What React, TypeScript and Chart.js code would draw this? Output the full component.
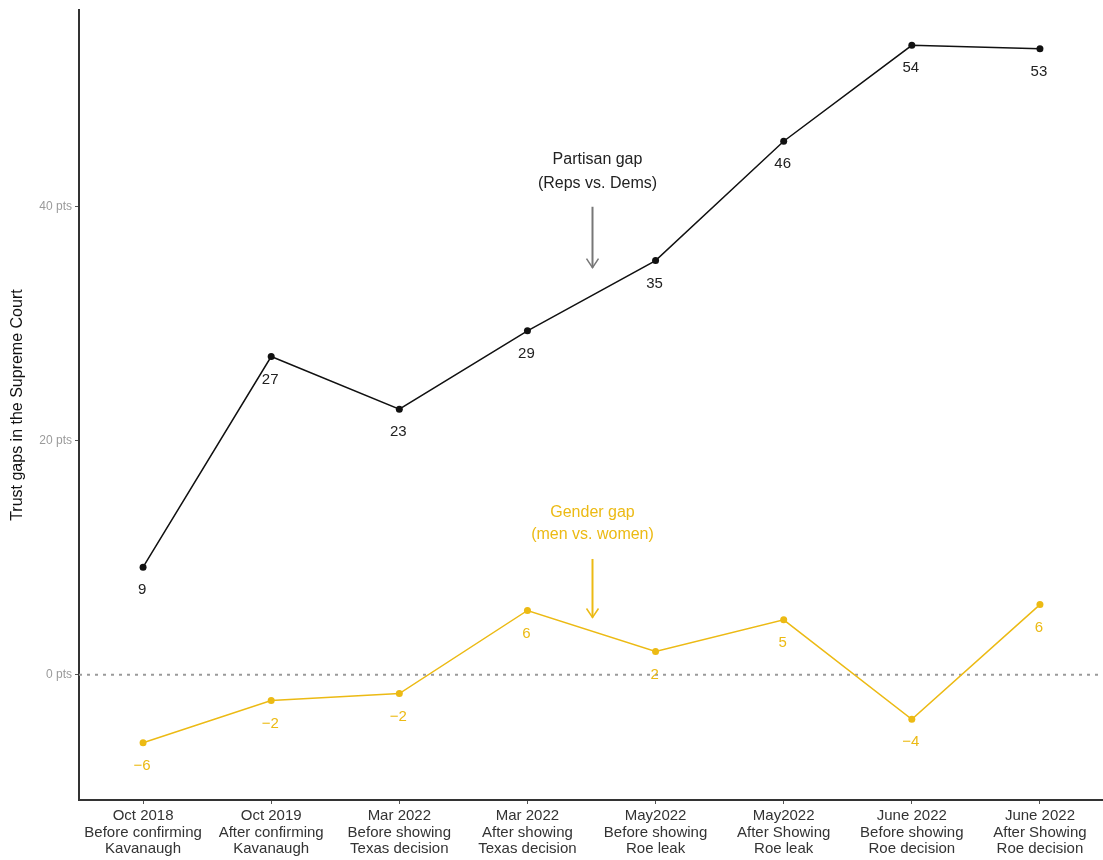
import React, { useEffect, useRef } from "react";
import { Chart, registerables } from "chart.js";

Chart.register(...registerables);

const categories: string[][] = [
  ["Oct 2018", "Before confirming", "Kavanaugh"],
  ["Oct 2019", "After confirming", "Kavanaugh"],
  ["Mar 2022", "Before showing", "Texas decision"],
  ["Mar 2022", "After showing", "Texas decision"],
  ["May2022", "Before showing", "Roe leak"],
  ["May2022", "After Showing", "Roe leak"],
  ["June 2022", "Before showing", "Roe decision"],
  ["June 2022", "After Showing", "Roe decision"],
];

const partisanGap = [9.2, 27.2, 22.7, 29.4, 35.4, 45.6, 53.8, 53.5];
const partisanLabels = ["9", "27", "23", "29", "35", "46", "54", "53"];
const genderGap = [-5.8, -2.2, -1.6, 5.5, 2.0, 4.7, -3.8, 6.0];
const genderLabels = ["\u22126", "\u22122", "\u22122", "6", "2", "5", "\u22124", "6"];
const yTicks = [0, 20, 40];

const GOLD = "#ECBA14";
const FONT = "'Liberation Sans', Arial, sans-serif";

export default function App() {
  const ref = useRef<HTMLCanvasElement | null>(null);

  useEffect(() => {
    document.body.style.margin = "0";
    const canvas = ref.current;
    if (!canvas) return;

    const zeroLine = {
      id: "zeroLine",
      beforeDatasetsDraw(chart: any) {
        const { ctx, chartArea, scales } = chart;
        const y = scales.y.getPixelForValue(0);
        ctx.save();
        ctx.strokeStyle = "#9a9a9a";
        ctx.lineWidth = 2;
        ctx.setLineDash([3, 5]);
        ctx.beginPath();
        ctx.moveTo(chartArea.left, y);
        ctx.lineTo(chartArea.right, y);
        ctx.stroke();
        ctx.restore();
      },
    };

    const pointLabels = {
      id: "pointLabels",
      afterDatasetsDraw(chart: any) {
        const { ctx } = chart;
        const sets = [
          { labels: partisanLabels, color: "#222222" },
          { labels: genderLabels, color: GOLD },
        ];
        ctx.save();
        ctx.font = `15px ${FONT}`;
        ctx.textAlign = "center";
        ctx.textBaseline = "middle";
        sets.forEach((s, di) => {
          const meta = chart.getDatasetMeta(di);
          ctx.fillStyle = s.color;
          meta.data.forEach((pt: any, i: number) => {
            ctx.fillText(s.labels[i], pt.x - 1, pt.y + 23);
          });
        });
        ctx.restore();
      },
    };

    const annotations = {
      id: "annotations",
      afterDatasetsDraw(chart: any) {
        const { ctx, scales } = chart;
        const xs = scales.x;
        const ys = scales.y;
        const cx = (xs.getPixelForValue(3) + xs.getPixelForValue(4)) / 2 + 1;
        const drawArrow = (x: number, y1: number, y2: number, color: string) => {
          ctx.save();
          ctx.strokeStyle = color;
          ctx.lineWidth = 2;
          ctx.beginPath();
          ctx.moveTo(x, y1);
          ctx.lineTo(x, y2);
          ctx.stroke();
          ctx.lineWidth = 1.5;
          ctx.beginPath();
          ctx.moveTo(x - 6, y2 - 9);
          ctx.lineTo(x, y2);
          ctx.lineTo(x + 6, y2 - 9);
          ctx.stroke();
          ctx.restore();
        };
        ctx.save();
        ctx.font = `16px ${FONT}`;
        ctx.textAlign = "center";
        ctx.textBaseline = "middle";
        ctx.fillStyle = "#222222";
        ctx.fillText("Partisan gap", cx + 5, ys.getPixelForValue(44.0));
        ctx.fillText("(Reps vs. Dems)", cx + 5, ys.getPixelForValue(42.0));
        ctx.fillStyle = GOLD;
        ctx.fillText("Gender gap", cx, ys.getPixelForValue(13.9));
        ctx.fillText("(men vs. women)", cx, ys.getPixelForValue(12.0));
        ctx.restore();
        drawArrow(cx, ys.getPixelForValue(40.0), ys.getPixelForValue(34.8), "#777777");
        drawArrow(cx, ys.getPixelForValue(9.9), ys.getPixelForValue(4.9), GOLD);
      },
    };

    const chart = new Chart(canvas, {
      type: "line",
      data: {
        labels: categories as any,
        datasets: [
          {
            label: "Partisan gap",
            data: partisanGap,
            borderColor: "#111111",
            backgroundColor: "#111111",
            borderWidth: 1.5,
            pointRadius: 3.5,
            pointBorderWidth: 0,
            tension: 0,
          },
          {
            label: "Gender gap",
            data: genderGap,
            borderColor: GOLD,
            backgroundColor: GOLD,
            borderWidth: 1.5,
            pointRadius: 3.5,
            pointBorderWidth: 0,
            tension: 0,
          },
        ],
      },
      options: {
        responsive: false,
        animation: false,
        devicePixelRatio: 1,
        layout: { padding: { top: 10, left: 0, right: 0, bottom: 0 } },
        plugins: {
          legend: { display: false },
          tooltip: { enabled: false },
        },
        scales: {
          x: {
            type: "category",
            offset: true,
            grid: {
              display: true,
              drawOnChartArea: false,
              drawTicks: true,
              tickLength: 4,
              color: "#555555",
              offset: false,
            },
            border: { display: true, color: "#333333", width: 2 },
            ticks: {
              color: "#333333",
              font: { family: FONT, size: 15, lineHeight: 1.1 },
              padding: 4,
              maxRotation: 0,
              minRotation: 0,
              autoSkip: false,
            },
            afterFit(s: any) {
              s.height = 60;
            },
          },
          y: {
            type: "linear",
            min: -10.7,
            max: 56.8,
            afterBuildTicks(s: any) {
              s.ticks = yTicks.map((v) => ({ value: v }));
            },
            grid: {
              display: true,
              drawOnChartArea: false,
              drawTicks: true,
              tickLength: 4,
              color: "#555555",
            },
            border: { display: true, color: "#333333", width: 2 },
            ticks: {
              color: "#9a9a9a",
              font: { family: FONT, size: 12 },
              padding: 3,
              callback: (v: any) => `${v} pts`,
            },
            title: {
              display: true,
              text: "Trust gaps in the Supreme Court",
              color: "#111111",
              font: { family: FONT, size: 16 },
              padding: { top: 8, bottom: 0 },
            },
            afterFit(s: any) {
              s.width = 79;
            },
          },
        },
      },
      plugins: [zeroLine, pointLabels, annotations],
    });

    return () => chart.destroy();
  }, []);

  return (
    <div style={{ width: 1103, height: 860, overflow: "hidden", position: "relative" }}>
      <canvas ref={ref} width={1108} height={860} style={{ display: "block" }} />
    </div>
  );
}
